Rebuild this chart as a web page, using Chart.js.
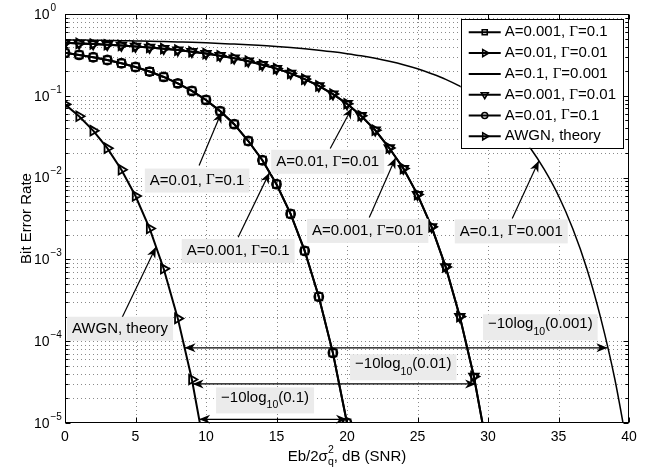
<!DOCTYPE html>
<html>
<head>
<meta charset="utf-8">
<script src="https://cdn.jsdelivr.net/npm/chart.js@4.4.0/dist/chart.umd.min.js"></script>
<style>
  html, body { margin: 0; padding: 0; background: #fff; }
</style>
</head>
<body>
<canvas id="berChart" width="647" height="472"></canvas>
<script>
// SNR grid in dB, Eb/2σq²
const snrDb = [0, 1, 2, 3, 4, 5, 6, 7, 8, 9, 10, 11, 12, 13, 14, 15, 16, 17, 18, 19, 20,
               21, 22, 23, 24, 25, 26, 27, 28, 29, 30, 31, 32, 33, 34, 35, 36, 37, 38, 39, 40];

// simulated BER, Class-A impulsive noise
const berA0001G01 = [0.335, 0.316, 0.296, 0.274, 0.250, 0.225, 0.198, 0.170, 0.142, 0.115, 0.089,
                     0.065, 0.045, 0.028, 0.0163, 0.0083, 0.0036, 0.00127, 0.00035, 7.2e-5, 1.0e-5];
const berA001G001 = [0.444, 0.437, 0.430, 0.421, 0.412, 0.401, 0.390, 0.377, 0.362, 0.346, 0.328,
                     0.309, 0.288, 0.265, 0.240, 0.215, 0.188, 0.160, 0.132, 0.105, 0.080,
                     0.057, 0.038, 0.023, 0.0129, 0.0062, 0.0025, 8.1e-4, 2.0e-4, 3.7e-5, 4.3e-6];
const berA01G0001 = [0.482, 0.480, 0.478, 0.475, 0.472, 0.468, 0.465, 0.460, 0.455, 0.450, 0.444,
                     0.437, 0.429, 0.421, 0.411, 0.401, 0.389, 0.376, 0.361, 0.345, 0.327,
                     0.308, 0.287, 0.264, 0.240, 0.214, 0.186, 0.159, 0.131, 0.104, 0.079,
                     0.056, 0.038, 0.023, 0.0125, 0.0060, 0.0024, 7.8e-4, 1.9e-4, 3.4e-5, 3.9e-6];
const berA0001G001 = [0.444, 0.437, 0.430, 0.421, 0.412, 0.401, 0.390, 0.377, 0.362, 0.346, 0.328,
                      0.309, 0.288, 0.265, 0.240, 0.215, 0.188, 0.160, 0.132, 0.105, 0.080,
                      0.057, 0.038, 0.023, 0.0129, 0.0062, 0.0025, 8.1e-4, 2.0e-4, 3.7e-5, 4.3e-6];
const berA001G01 = [0.335, 0.316, 0.296, 0.274, 0.250, 0.225, 0.198, 0.170, 0.142, 0.115, 0.089,
                    0.065, 0.045, 0.028, 0.0163, 0.0083, 0.0036, 0.00127, 0.00035, 7.2e-5, 1.0e-5];
const berAwgn = [0.0786, 0.0563, 0.0375, 0.0229, 0.0125, 0.00595, 0.00239, 7.7e-4, 1.9e-4, 3.4e-5, 3.9e-6];

const xTicks = [0, 5, 10, 15, 20, 25, 30, 35, 40];
const yDecades = [-5, -4, -3, -2, -1, 0];

// callouts: label position, arrow tail and head, in data units
const callouts = [
  { text: 'A=0.01, Γ=0.1',    at: [9.37, 9.2e-3],  from: [9.51, 0.0141],  to: [11.1, 0.063] },
  { text: 'A=0.001, Γ=0.1',   at: [12.28, 1.27e-3], from: [12.28, 1.86e-3], to: [14.5, 0.0115] },
  { text: 'A=0.01, Γ=0.01',   at: [18.63, 0.0156], from: [18.81, 0.0227], to: [20.35, 0.071] },
  { text: 'A=0.001, Γ=0.01',  at: [21.47, 2.23e-3], from: [21.58, 3.26e-3], to: [23.45, 0.0175] },
  { text: 'A=0.1, Γ=0.001',   at: [31.65, 2.2e-3], from: [31.72, 3.17e-3], to: [33.6, 0.016] },
  { text: 'AWGN, theory',     at: [3.9, 1.42e-4],  from: [4.05, 1.95e-4], to: [6.45, 1.42e-3] }
];
// SNR gaps between AWGN and each Γ at equal BER
const gaps = [
  { gamma: '(0.001)', ber: 8.3e-5, from: 8.48, to: 38.47, at: [33.71, 1.48e-4] },
  { gamma: '(0.01)',  ber: 3.0e-5, from: 9.05, to: 29.15, at: [23.99, 4.8e-5] },
  { gamma: '(0.1)',   ber: 1.11e-5, from: 9.51, to: 20.0, at: [14.19, 1.89e-5] }
];

const SANS = '"Liberation Sans", Arial, Helvetica, sans-serif';
const SERIF = '"Liberation Serif", "Times New Roman", serif';

function points(ys) {
  return ys.map((y, i) => ({ x: snrDb[i], y: y }));
}

function series(label, ys, style, rotation, radius) {
  return {
    label: label,
    data: points(ys),
    borderColor: '#000',
    borderWidth: 2,
    pointStyle: style || false,
    pointRotation: rotation || 0,
    pointRadius: style ? radius : 0,
    pointBorderColor: '#000',
    pointBackgroundColor: 'rgba(0,0,0,0)',
    pointBorderWidth: 1.8,
    tension: 0
  };
}

const datasets = [
  series('A=0.001, Γ=0.1', berA0001G01, 'rect', 0, 5),
  series('A=0.01, Γ=0.01', berA001G001, 'triangle', 90, 5.5),
  Object.assign(series('A=0.1, Γ=0.001', berA01G0001, null), { cubicInterpolationMode: 'monotone', borderWidth: 1.5 }),
  series('A=0.001, Γ=0.01', berA0001G001, 'triangle', 180, 5.5),
  series('A=0.01, Γ=0.1', berA001G01, 'circle', 0, 4.5),
  series('AWGN, theory', berAwgn, 'triangle', 90, 5.5)
];

// text made of runs with their own font and vertical offset
function drawRich(ctx, runs, x, y, align) {
  let total = 0;
  runs.forEach(r => {
    ctx.font = r.font;
    r.w = ctx.measureText(r.text).width;
    if (!r.stack) total += r.w;
  });
  let cx = align === 'center' ? x - total / 2 : align === 'right' ? x - total : x;
  ctx.textAlign = 'left';
  runs.forEach(r => {
    ctx.font = r.font;
    ctx.fillText(r.text, cx, y + (r.dy || 0));
    if (!r.stack) cx += r.w;
  });
  return total;
}

function measureRich(ctx, runs) {
  let total = 0;
  runs.forEach(r => {
    ctx.font = r.font;
    if (!r.stack) total += ctx.measureText(r.text).width;
  });
  return total;
}

function labelRuns(text, size) {
  return text.split(/(Γ)/).filter(Boolean).map(t => ({
    text: t, font: size + 'px ' + (t === 'Γ' ? SERIF : SANS)
  }));
}

function arrowHead(ctx, x1, y1, x2, y2) {
  const a = Math.atan2(y2 - y1, x2 - x1), len = 11, half = 4.5;
  const c = Math.cos(a), s = Math.sin(a);
  ctx.beginPath();
  ctx.moveTo(x2, y2);
  ctx.lineTo(x2 - len * c + half * s, y2 - len * s - half * c);
  ctx.lineTo(x2 - 0.7 * len * c, y2 - 0.7 * len * s);
  ctx.lineTo(x2 - len * c - half * s, y2 - len * s + half * c);
  ctx.closePath();
  ctx.fill();
}

function segment(ctx, x1, y1, x2, y2) {
  ctx.beginPath();
  ctx.moveTo(x1, y1);
  ctx.lineTo(x2, y2);
  ctx.stroke();
}

function labelBox(ctx, runs, cx, cy, h, textDy) {
  const w = measureRich(ctx, runs) + 10;
  ctx.fillStyle = '#ebebeb';
  ctx.fillRect(cx - w / 2, cy - h / 2, w, h);
  ctx.fillStyle = '#000';
  ctx.textBaseline = 'middle';
  drawRich(ctx, runs, cx, cy + textDy, 'center');
}

function marker(ctx, style, rot, x, y, r) {
  ctx.beginPath();
  if (style === 'rect') {
    ctx.rect(x - r, y - r, 2 * r, 2 * r);
  } else if (style === 'circle') {
    ctx.arc(x, y, r, 0, Math.PI * 2);
  } else if (style === 'triangle') {
    let a = rot * Math.PI / 180;
    for (let k = 0; k < 3; k++) {
      const px = x + Math.sin(a) * r, py = y - Math.cos(a) * r;
      if (k === 0) ctx.moveTo(px, py); else ctx.lineTo(px, py);
      a += Math.PI * 2 / 3;
    }
    ctx.closePath();
  }
  ctx.stroke();
}

const berFrame = {
  id: 'berFrame',
  beforeDatasetsDraw(chart) {
    const ctx = chart.ctx, a = chart.chartArea;
    const xs = chart.scales.x, ys = chart.scales.y;
    ctx.save();
    ctx.strokeStyle = '#8a8a8a';
    ctx.lineWidth = 1;
    ctx.setLineDash([1, 3]);
    xTicks.forEach(v => {
      if (v <= xs.min || v >= xs.max) return;
      const px = Math.round(xs.getPixelForValue(v)) + 0.5;
      segment(ctx, px, a.top, px, a.bottom);
    });
    yDecades.forEach(d => {
      for (let m = 1; m <= 9; m++) {
        const v = m * Math.pow(10, d);
        if (v <= ys.min * 1.0001 || v >= ys.max * 0.9999) continue;
        const py = Math.round(ys.getPixelForValue(v)) + 0.5;
        segment(ctx, a.left, py, a.right, py);
      }
    });
    ctx.restore();
  },
  afterDatasetsDraw(chart) {
    const ctx = chart.ctx, a = chart.chartArea;
    const xs = chart.scales.x, ys = chart.scales.y;
    const toPx = p => [xs.getPixelForValue(p[0]), ys.getPixelForValue(p[1])];
    ctx.save();
    ctx.strokeStyle = '#000';
    ctx.fillStyle = '#000';
    ctx.lineWidth = 1;

    // axes box with inward ticks
    const L = Math.round(a.left) + 0.5, R = Math.round(a.right) - 0.5;
    const T = Math.round(a.top) + 0.5, B = Math.round(a.bottom) - 0.5;
    ctx.strokeRect(L, T, R - L, B - T);
    xTicks.forEach(v => {
      const px = Math.round(xs.getPixelForValue(v)) + 0.5;
      segment(ctx, px, B, px, B - 5);
      segment(ctx, px, T, px, T + 5);
    });
    yDecades.forEach(d => {
      for (let m = 1; m <= 9; m++) {
        const v = m * Math.pow(10, d);
        if (v > ys.max * 1.0001) continue;
        const py = Math.round(ys.getPixelForValue(v)) + 0.5;
        const len = m === 1 ? 5 : 3;
        segment(ctx, L, py, L + len, py);
        segment(ctx, R, py, R - len, py);
      }
    });

    // tick labels
    ctx.textBaseline = 'middle';
    ctx.textAlign = 'center';
    ctx.font = '14px ' + SANS;
    xTicks.forEach(v => {
      ctx.fillText(String(v), xs.getPixelForValue(v), a.bottom + 14);
    });
    yDecades.forEach(d => {
      const py = ys.getPixelForValue(Math.pow(10, d));
      ctx.font = '14px ' + SANS;
      ctx.textAlign = 'right';
      ctx.fillText('10', 49.5, py + 1);
      ctx.font = '10px ' + SANS;
      ctx.textAlign = 'left';
      ctx.fillText(d === 0 ? '0' : '\u2212' + (-d), 50.5, py - 6);
    });

    // axis titles
    const sub = { font: '10.5px ' + SANS };
    drawRich(ctx, [
      { text: 'Eb/2σ', font: '15px ' + SANS },
      { text: '2', font: sub.font, dy: -7, stack: true },
      { text: 'q', font: sub.font, dy: 5 },
      { text: ', dB (SNR)', font: '15px ' + SANS }
    ], (a.left + a.right) / 2, 457, 'center');
    ctx.save();
    ctx.translate(26.5, (a.top + a.bottom) / 2);
    ctx.rotate(-Math.PI / 2);
    ctx.textAlign = 'center';
    ctx.font = '15px ' + SANS;
    ctx.fillText('Bit Error Rate', 0, 0);
    ctx.restore();

    // double arrows and their labels
    ctx.lineWidth = 1.2;
    gaps.forEach(g => {
      const y = ys.getPixelForValue(g.ber);
      const x1 = xs.getPixelForValue(g.from), x2 = xs.getPixelForValue(g.to);
      segment(ctx, x1, y, x2, y);
      arrowHead(ctx, x2, y, x1, y);
      arrowHead(ctx, x1, y, x2, y);
      const [cx, cy] = toPx(g.at);
      labelBox(ctx, [
        { text: '\u221210log', font: '15px ' + SANS },
        { text: '10', font: '10.5px ' + SANS, dy: 8 },
        { text: g.gamma, font: '15px ' + SANS }
      ], cx, cy, 26, -3);
    });

    // pointer callouts
    callouts.forEach(c => {
      const [tx, ty] = toPx(c.from), [hx, hy] = toPx(c.to);
      segment(ctx, tx, ty, hx, hy);
      arrowHead(ctx, tx, ty, hx, hy);
      const [cx, cy] = toPx(c.at);
      labelBox(ctx, labelRuns(c.text, 15), cx, cy, 24, 0);
    });

    // legend
    const rowH = 20.8, top = a.top + 5, right = a.right - 6;
    let maxW = 0;
    chart.data.datasets.forEach(ds => { maxW = Math.max(maxW, measureRich(ctx, labelRuns(ds.label, 15))); });
    const left = right - (44 + maxW + 7);
    const height = rowH * chart.data.datasets.length + 4;
    ctx.fillStyle = '#fff';
    ctx.fillRect(left, top, right - left, height);
    ctx.lineWidth = 1;
    ctx.strokeRect(Math.round(left) + 0.5, Math.round(top) + 0.5, Math.round(right - left), Math.round(height));
    chart.data.datasets.forEach((ds, i) => {
      const y = top + 13.3 + i * rowH;
      ctx.lineWidth = 2;
      segment(ctx, left + 8, y, left + 40, y);
      if (ds.pointStyle) {
        ctx.lineWidth = 1.6;
        const r = ds.pointStyle === 'rect' ? 2.5 : ds.pointStyle === 'circle' ? 3 : 4;
        marker(ctx, ds.pointStyle, ds.pointRotation, left + 24, y, r);
      }
      ctx.fillStyle = '#000';
      ctx.textBaseline = 'middle';
      drawRich(ctx, labelRuns(ds.label, 15), left + 44, y, 'left');
    });
    ctx.restore();
  }
};

new Chart(document.getElementById('berChart').getContext('2d'), {
  type: 'line',
  data: { datasets: datasets },
  options: {
    responsive: false,
    animation: false,
    devicePixelRatio: 1,
    layout: { padding: { top: 14, right: 18, left: 0, bottom: 0 } },
    scales: {
      x: {
        type: 'linear', min: 0, max: 40,
        grid: { display: false }, border: { display: false }, ticks: { display: false },
        afterFit: s => { s.height = 49; }
      },
      y: {
        type: 'logarithmic', min: 1e-5, max: 1,
        grid: { display: false }, border: { display: false }, ticks: { display: false },
        afterFit: s => { s.width = 65; }
      }
    },
    plugins: { legend: { display: false }, tooltip: { enabled: false } }
  },
  plugins: [berFrame]
});
</script>
</body>
</html>
